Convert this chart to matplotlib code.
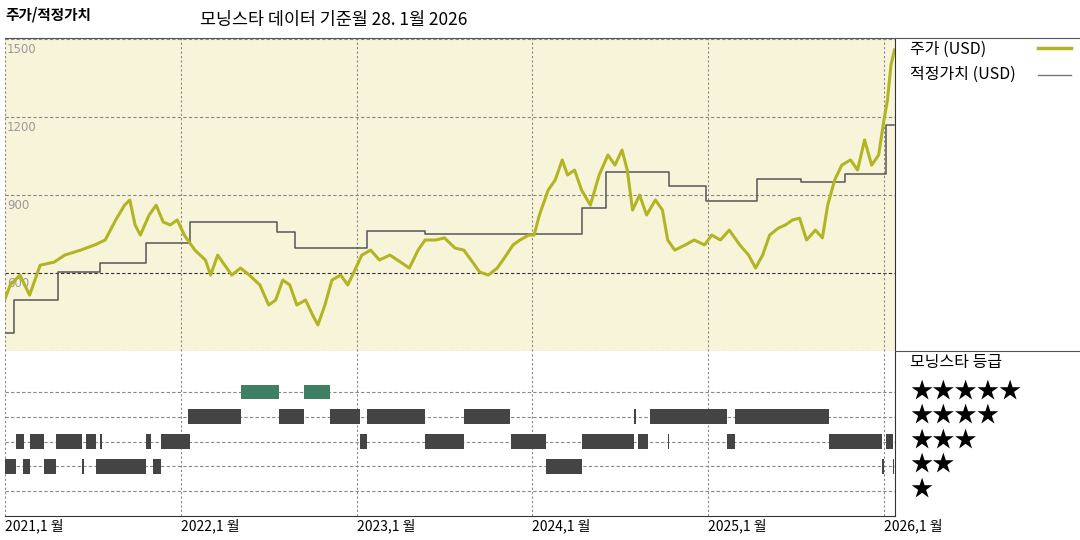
import matplotlib
matplotlib.use("Agg")
import matplotlib.pyplot as plt
import numpy as np

plt.rcParams['font.family'] = ['Noto Sans CJK KR', 'DejaVu Sans']

BASE = 2021.0
# price (years offset from 2021-01, USD)
price_t = [0.0, .03, .085, .14, .20, .28, .34, .43, .51, .57, .63, .68, .71, .74, .77, .82, .86, .90, .94, .98,
           1.02, 1.08, 1.14, 1.17, 1.21, 1.25, 1.29, 1.34, 1.39, 1.45, 1.50, 1.54, 1.58, 1.62, 1.66, 1.71, 1.75, 1.78,
           1.82, 1.86, 1.91, 1.95, 1.99, 2.03, 2.08, 2.13, 2.19, 2.25, 2.30, 2.35, 2.39, 2.45, 2.50, 2.56, 2.61, 2.66,
           2.70, 2.75, 2.80, 2.84, 2.89, 2.93, 2.98, 3.01, 3.04, 3.09, 3.13, 3.17, 3.20, 3.24, 3.28, 3.33, 3.38, 3.43,
           3.47, 3.51, 3.54, 3.57, 3.61, 3.65, 3.70, 3.74, 3.77, 3.81, 3.87, 3.92, 3.98, 4.02, 4.07, 4.12, 4.18, 4.23,
           4.27, 4.31, 4.35, 4.40, 4.44, 4.48, 4.52, 4.56, 4.61, 4.65, 4.68, 4.72, 4.76, 4.81, 4.85, 4.89, 4.93, 4.97,
           5.00, 5.02, 5.04, 5.06]
price_v = [500, 554, 592, 515, 630, 642, 669, 688, 708, 727, 804, 861, 881, 785, 746, 823, 861, 796, 785, 804,
           746, 688, 650, 592, 669, 630, 592, 619, 592, 554, 477, 496, 573, 554, 477, 496, 438, 400,
           477, 573, 592, 554, 611, 669, 688, 650, 669, 642, 619, 688, 727, 727, 735, 696, 688, 642,
           604, 592, 619, 657, 708, 727, 746, 746, 823, 919, 958, 1035, 977, 996, 919, 861, 977, 1054,
           1015, 1073, 996, 842, 900, 823, 881, 842, 727, 688, 708, 727, 708, 746, 727, 765, 708, 669,
           619, 669, 746, 773, 785, 804, 811, 727, 765, 735, 861, 958, 1015, 1035, 996, 1112, 1015, 1054,
           1188, 1265, 1400, 1458]
# fair value steps
fv_t = [0.0, .05, .30, .54, .80, 1.05, 1.55, 1.65, 2.06, 2.39, 3.28, 3.42, 3.78, 3.99, 4.28, 4.53, 4.78, 5.01, 5.06]
fv_v = [369, 496, 604, 638, 715, 796, 758, 696, 762, 750, 850, 988, 935, 877, 962, 950, 981, 1169]

# star rating periods
stars5 = [(1.34, 1.56), (1.70, 1.85)]
stars4 = [(1.04, 1.34), (1.56, 1.70), (1.85, 2.02), (2.06, 2.39), (2.61, 2.87), (3.58, 3.59), (3.67, 4.11), (4.15, 4.69)]
stars3 = [(.06, .11), (.14, .22), (.29, .44), (.46, .52), (.54, .55), (.80, .83), (.89, 1.05), (2.02, 2.06), (2.39, 2.61),
          (2.88, 3.08), (3.28, 3.58), (3.60, 3.66), (3.77, 3.78), (4.11, 4.15), (4.69, 4.99), (5.01, 5.05)]
stars2 = [(0, .06), (.10, .14), (.22, .29), (.44, .45), (.52, .80), (.84, .89), (3.08, 3.28), (4.99, 5.0), (5.05, 5.06)]
stars1 = []

year_ticks = [2021, 2022, 2023, 2024, 2025, 2026]
y_ticks = [300, 600, 900, 1200, 1500]

W, H = 1080, 540
fig = plt.figure(figsize=(10.8, 5.4), dpi=100)
def rect(x0, y0, x1, y1):
    return [x0 / W, 1 - y1 / H, (x1 - x0) / W, (y1 - y0) / H]

xl = (BASE, BASE + 5.063)
ax = fig.add_axes(rect(5, 38, 895, 351))
ax.set_facecolor('#f8f4da')
ax.set_xlim(*xl)
ax.set_ylim(300, 1504)
for s in ax.spines.values():
    s.set_visible(False)
ax.set_xticks([]); ax.set_yticks([])
for v in y_ticks:
    ls = (0, (3, 2))
    col = '#333333' if v == 600 else '#888888'
    ax.axhline(v, color=col, lw=0.8, ls=ls, zorder=1)
    ax.text(BASE + 0.01, v - 14, str(v), color='#999999', fontsize=8.5, va='top', ha='left',
            family='DejaVu Sans', clip_on=False)
for yr in year_ticks:
    ax.axvline(yr, color='#888888', lw=0.8, ls=(0, (2, 2)), zorder=1)
ax.step([BASE + t for t in fv_t], fv_v + [fv_v[-1]], where='post', color='#555555', lw=1.1, zorder=3)
ax.plot([BASE + t for t in price_t], price_v, color='#b2b523', lw=2.2, zorder=4)

sx = fig.add_axes(rect(5, 351, 895, 516))
sx.set_xlim(*xl)
sx.set_ylim(-0.01, 6.66)
for k in ['top', 'right', 'left']:
    sx.spines[k].set_visible(False)
sx.spines['bottom'].set_color('#333333')
sx.set_xticks([]); sx.set_yticks([])
for r in range(1, 6):
    sx.axhline(r, color='#888888', lw=0.8, ls=(0, (3, 2)), zorder=1)
for yr in year_ticks:
    sx.axvline(yr, color='#888888', lw=0.8, ls=(0, (2, 2)), zorder=1)
    sx.text(yr, -0.12, f"{yr},1 월", fontsize=10, va='top', ha='left', clip_on=False)
for r, segs in zip([5, 4, 3, 2, 1], [stars5, stars4, stars3, stars2, stars1]):
    col = '#3f7f62' if r == 5 else '#444444'
    if segs:
        sx.broken_barh([(BASE + a, max(b - a, 0.006)) for a, b in segs], (r - 0.3, 0.6),
                       facecolor=col, edgecolor='none', zorder=3)

# right panel
rp = fig.add_axes(rect(895, 38, 1080, 516))
rp.set_xlim(0, 1); rp.set_ylim(0, 1)
rp.set_xticks([]); rp.set_yticks([])
for k in ['top', 'right', 'bottom']:
    rp.spines[k].set_visible(False)
rp.spines['left'].set_color('#333333')
fig.add_artist(plt.Line2D([5 / W, 1], [1 - 38 / H] * 2, color='#555555', lw=0.8))
fig.add_artist(plt.Line2D([895 / W, 1], [1 - 351 / H] * 2, color='#555555', lw=0.8))

def fx(x): return x / W
def fy(y): return 1 - y / H
fig.text(fx(910), fy(49), "주가 (USD)", fontsize=11.5, va='center')
fig.add_artist(plt.Line2D([fx(1038), fx(1071)], [fy(48)] * 2, color='#b2b523', lw=2.5))
fig.text(fx(910), fy(74), "적정가치 (USD)", fontsize=11.5, va='center')
fig.add_artist(plt.Line2D([fx(1038), fx(1071)], [fy(75)] * 2, color='#777777', lw=1))
fig.text(fx(910), fy(362), "모닝스타 등급", fontsize=11.5, va='center')
for i, n in enumerate([5, 4, 3, 2, 1]):
    fig.text(fx(910), fy(391 + i * 24.5), "★" * n, fontsize=16, va='center')

fig.text(fx(5), fy(15), "주가/적정가치", fontsize=10.5, fontweight='bold', va='center')
fig.text(fx(200), fy(20), "모닝스타 데이터 기준월 28. 1월 2026", fontsize=12.5, va='center')

fig.savefig("out.png", dpi=100)
